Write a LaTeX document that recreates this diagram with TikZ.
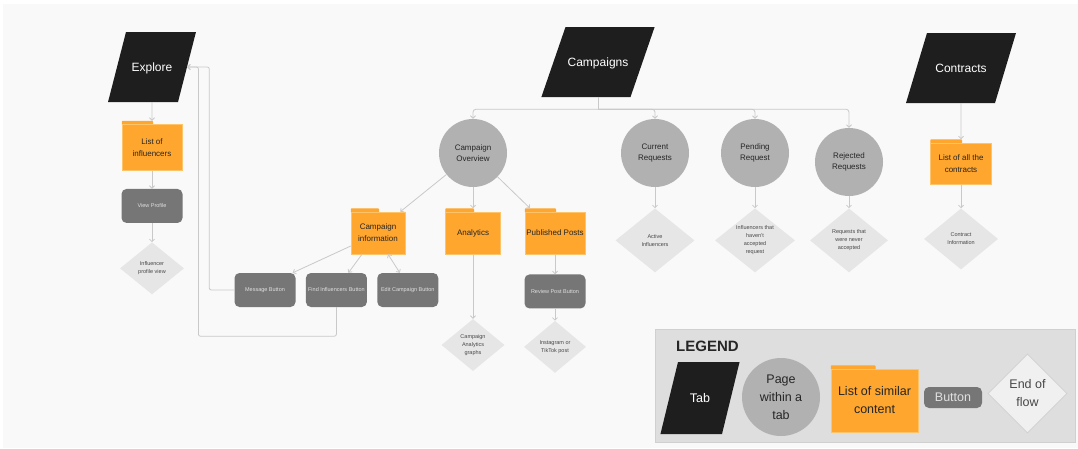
\documentclass[tikz,border=0pt]{standalone}
\usepackage{fontspec}
\setmainfont{Liberation Sans}
\usepackage{xcolor}
\definecolor{tabblack}{HTML}{1E1E1E}
\definecolor{pagegray}{HTML}{B1B1B1}
\definecolor{listorange}{HTML}{FFA62E}
\definecolor{listedge}{HTML}{FFC36A}
\definecolor{btngray}{HTML}{767676}
\definecolor{endgray}{HTML}{E6E6E6}
\definecolor{linegray}{HTML}{C9C9C9}
\definecolor{canvasbg}{HTML}{F9F9F9}
\definecolor{legendbg}{HTML}{DEDEDE}
\definecolor{legendedge}{HTML}{D0D0D0}
\definecolor{inkdark}{HTML}{262626}
\usetikzlibrary{positioning,arrows.meta,shapes.geometric,calc}
\newcommand{\keyfont}{\fontsize{12.5pt}{18pt}\selectfont}
\tikzset{
  tab/.style     ={trapezium,trapezium left angle=75.6,trapezium right angle=104.4,
                   fill=tabblack,text=white,inner sep=0pt,align=center,
                   text width=52pt,text height=39.3pt,text depth=30.7pt,
                   font=\fontsize{12pt}{14pt}\selectfont},
  page/.style    ={circle,fill=pagegray,minimum size=68pt,inner sep=0pt,align=center,
                   text=inkdark,font=\fontsize{8pt}{11.5pt}\selectfont},
  list/.style    ={rectangle,fill=listorange,draw=listedge,line width=0.5pt,inner sep=1pt,
                   minimum width=60pt,minimum height=46pt,align=center,text=inkdark,
                   font=\fontsize{8pt}{12pt}\selectfont,
                   append after command={\pgfextra{\fill[listorange,rounded corners=0.8pt]
                     ([yshift=-1pt]\tikzlastnode.north west) -- ([yshift=3.5pt]\tikzlastnode.north west)
                     -- ([xshift=1pt,yshift=3.5pt]\tikzlastnode.north)
                     -- ([xshift=1pt,yshift=-1pt]\tikzlastnode.north) -- cycle;}}},
  btn/.style     ={rectangle,rounded corners=5pt,fill=btngray,inner sep=0pt,
                   minimum width=61pt,minimum height=34pt,text=white!88!black,
                   font=\fontsize{5.5pt}{7pt}\selectfont},
  endflow/.style ={diamond,fill=endgray,inner sep=-8pt,align=center,text=inkdark!85,
                   minimum width=64pt,minimum height=52pt,font=\fontsize{5.5pt}{8pt}\selectfont},
  legendbox/.style={rectangle,fill=legendbg,draw=legendedge,line width=0.6pt,
                   minimum width=420pt,minimum height=113pt},
  flow/.style    ={-{Straight Barb[length=2.5pt,width=5pt]},line width=0.8pt,draw=linegray},
  flowboth/.style={{Straight Barb[length=2.5pt,width=5pt]}-{Straight Barb[length=2.5pt,width=5pt]},
                   line width=0.8pt,draw=linegray},
  link/.style    ={line width=0.8pt,draw=linegray},
}
\begin{document}
\begin{tikzpicture}[x=1pt,y=-1pt,node distance=18pt]
  \useasboundingbox (0,0) rectangle (1078,448);
  \fill[canvasbg] (3,4) rectangle (1078,448);

  % tabs
  \node[tab] (explore) at (152,67) {Explore};
  \node[tab,trapezium left angle=71,trapezium right angle=109,text width=65pt] (campaigns) at (598,62) {Campaigns};
  \node[tab,trapezium left angle=73.3,trapezium right angle=106.7,text width=68pt] (contracts) at (961,68) {Contracts};

  % explore
  \node[list] (inflist) at (152,147.5) {List of\\influencers};
  \node[btn,below=18pt of inflist] (viewprofile) {View Profile};
  \node[endflow,below=19pt of viewprofile] (profileview) {Influencer\\profile view};

  % campaigns
  \node[page] (overview) at (473,153) {Campaign\\Overview};
  \node[page] (current) at (655,153) {Current\\Requests};
  \node[page] (pending) at (755,153) {Pending\\Request};
  \node[page] (rejected) at (849,162) {Rejected\\Requests};
  \node[list,minimum width=54pt,minimum height=42pt] (campinfo) at (378,233) {Campaign\\information};
  \node[list,minimum width=55pt,minimum height=42pt] (analytics) at (473,233) {Analytics};
  \node[list,minimum height=42pt] (published) at (555,233) {Published Posts};
  \node[btn] (message) at (265,290) {Message Button};
  \node[btn,right=10pt of message] (findinf) {Find Influencers Button};
  \node[btn,right=10pt of findinf] (editcamp) {Edit Campaign Button};
  \node[btn,below=20pt of published] (review) {Review Post Button};
  \node[endflow,minimum width=63pt] (graphs) at (473,345) {Campaign\\Analytics\\graphs};
  \node[endflow,minimum width=62pt,below=12pt of review] (igpost) {Instagram or\\TikTok post};
  \node[endflow,minimum width=79pt,minimum height=64pt,below=21pt of current] (active) {Active\\Influencers};
  \node[endflow,minimum width=80pt,minimum height=64pt,below=21pt of pending] (notaccepted) {Influencers that\\haven't\\accepted\\request};
  \node[endflow,minimum width=78pt,minimum height=64pt,below=12pt of rejected] (neveraccepted) {Requests that\\were never\\accepted};

  % contracts
  \node[list,minimum width=61pt,minimum height=41pt] (contractlist) at (961,163.5) {List of all the\\contracts};
  \node[endflow,minimum width=74pt,minimum height=61pt,below=24pt of contractlist] (contractinfo) {Contract\\Information};

  % connectors
  \draw[flow] (explore) -- ([yshift=3.5pt]inflist.north);
  \draw[flow] (inflist) -- (viewprofile);
  \draw[flow] (viewprofile) -- (profileview);

  \coordinate (bus) at ($(campaigns.center |- campaigns.south)+(0,12)$);
  \draw[link] (campaigns.center |- campaigns.south) -- (bus);
  \foreach \pg in {overview,current,pending,rejected}
    \draw[flow,rounded corners=3pt] (bus) -| (\pg.north);

  \draw[flow] (overview) -- ([xshift=-5pt]campinfo.north east);
  \draw[flow] (overview) -- ([yshift=3.5pt]analytics.north);
  \draw[flow] (overview) -- ([xshift=-25pt,yshift=3.5pt]published.north);
  \draw[flow] ([yshift=-13pt]campinfo.west) -- ([xshift=-3pt]message.north east);
  \draw[flow] ([xshift=-16pt]campinfo.south) -- ([xshift=12pt]findinf.north);
  \draw[flowboth] ([xshift=10pt]campinfo.south) -- ([xshift=-8pt]editcamp.north);
  \draw[flow,rounded corners=2pt] (message.west) -- ++(-25,0) |- (explore);
  \draw[flow,rounded corners=2pt] (findinf.south) -- ++(0,29) -- ++(-138,0) |- (explore);

  \draw[flow] (analytics) -- (graphs);
  \draw[flow] (published) -- (review);
  \draw[flow] (review) -- (igpost);
  \draw[flow] (current) -- (active);
  \draw[flow] (pending) -- (notaccepted);
  \draw[flow] (rejected) -- (neveraccepted);

  \draw[flow] (contracts) -- ([yshift=3.5pt]contractlist.north);
  \draw[flow] (contractlist) -- (contractinfo);

  % legend
  \node[legendbox] (legend) at (865,385.5) {};
  \node[anchor=west,inner sep=0pt,text=inkdark,font=\bfseries\fontsize{15pt}{18pt}\selectfont] (legendname) at (676,346) {LEGEND};
  \node[tab,trapezium left angle=76.3,trapezium right angle=103.7,text width=44pt,
        text height=40.5pt,text depth=31.5pt,font=\keyfont] (keytab) at (700,398) {Tab};
  \node[page,minimum size=78pt,font=\keyfont] (keypage) at (781,397) {Page\\within a\\tab};
  \node[list,minimum width=87pt,minimum height=63pt,font=\keyfont] (keylist) at (874.5,400.5) {List of similar\\content};
  \node[btn,minimum width=58pt,minimum height=21pt,font=\keyfont] (keybtn) at (953,397.5) {Button};
  \node[endflow,fill=endgray!60!white,draw=legendedge,line width=0.6pt,inner sep=-10pt,
        minimum width=79pt,minimum height=79pt,font=\keyfont] (keyend) at (1027.5,393.5) {End of\\flow};
\end{tikzpicture}
\end{document}
